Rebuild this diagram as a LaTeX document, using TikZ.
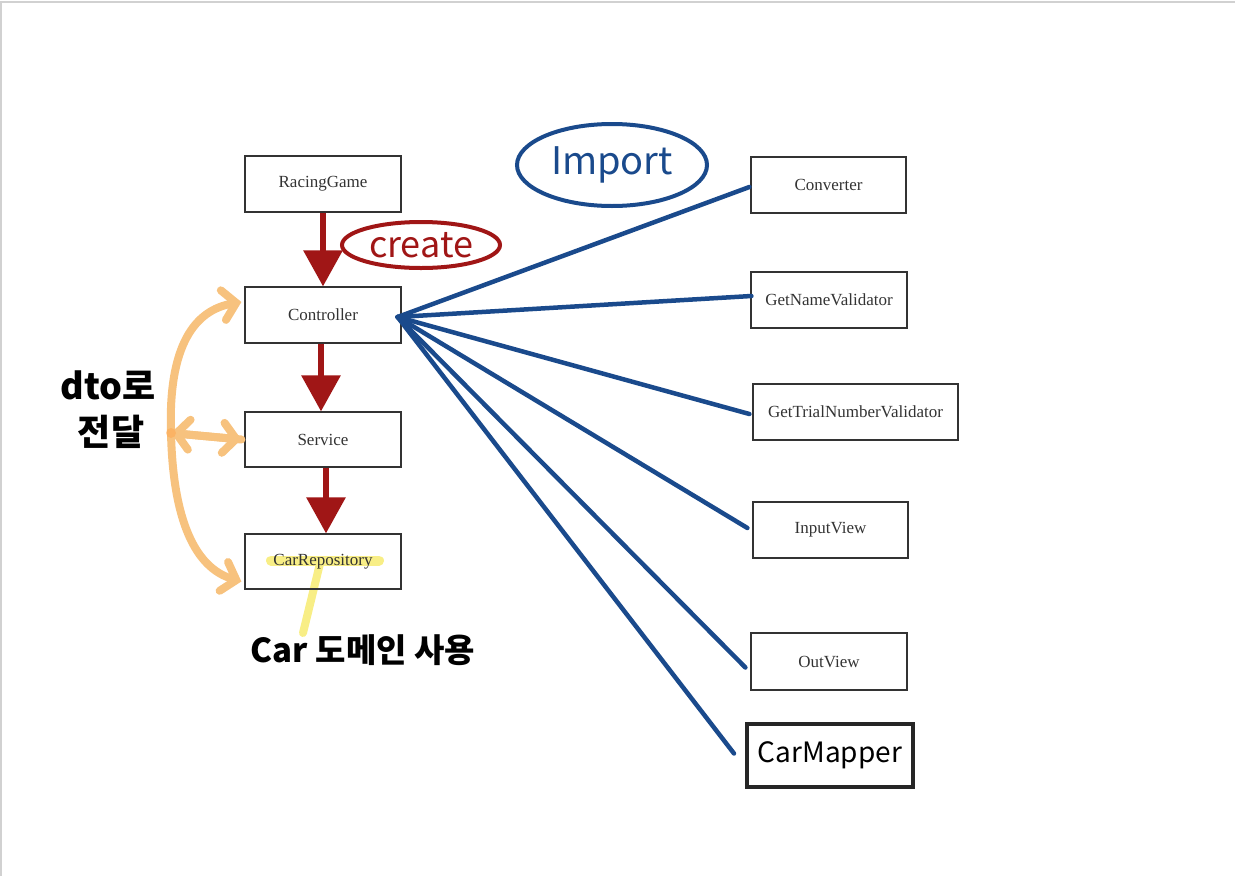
\documentclass[tikz,border=0pt]{standalone}
\usepackage{fontspec}
\setmainfont{Liberation Serif}
\newfontfamily\kr{Noto Sans CJK KR}
\usetikzlibrary{arrows.meta,shapes.geometric,calc}
\pgfdeclarelayer{background}
\pgfsetlayers{background,main}
\definecolor{hblue}{HTML}{1A4A8C}
\definecolor{hred}{HTML}{A01616}
\definecolor{horange}{HTML}{F7C27E}
\definecolor{hyellow}{HTML}{F8EE86}
\definecolor{boxline}{HTML}{333333}
\tikzset{
  cls/.style={draw=boxline, line width=1.2pt, minimum height=56pt, minimum width=156pt,
    inner sep=0pt, font=\fontsize{17}{20}\selectfont, text=black!80},
  redarrow/.style={draw=hred, line width=6pt, -{Triangle[length=36pt,width=38pt]}},
  blueline/.style={draw=hblue, line width=4.5pt, line cap=round},
  orangearc/.style={draw=horange, line width=8pt, line cap=round,
    -{Straight Barb[length=13pt,width=30pt,line cap=round]}},
  hand/.style={font=\kr\bfseries\fontsize{#1}{#1}\selectfont, inner sep=0pt},
  handlight/.style={font=\kr\fontsize{#1}{#1}\selectfont, inner sep=0pt},
}
\begin{document}
\begin{tikzpicture}[x=1pt,y=-1pt]
\useasboundingbox (0,0) rectangle (1235,876);
\draw[black!18, line width=2pt] (1,876) -- (1,2) -- (1235,2);

% left column classes
\node[cls] (RacingGame) at (323,184) {RacingGame};
\node[cls] (Controller) at (323,315) {Controller};
\node[cls, minimum height=55pt] (Service) at (323,439.5) {Service};
\node[cls, minimum height=55pt] (CarRepository) at (323,561.5) {CarRepository};

% right column classes
\node[cls, minimum width=155pt] (Converter) at (828.5,185) {Converter};
\node[cls] (GetNameValidator) at (829,300) {GetNameValidator};
\node[cls, minimum width=205pt] (GetTrialNumberValidator) at (855.5,412) {GetTrialNumberValidator};
\node[cls, minimum width=155pt] (InputView) at (830.5,530) {InputView};
\node[cls, minimum height=57pt] (OutView) at (829,661.5) {OutView};
\node[draw=black!85, line width=4pt, minimum width=166pt, minimum height=63pt, inner sep=0pt,
  handlight=28] (CarMapper) at (830,755.5) {CarMapper};

% highlight behind CarRepository text
\coordinate (ylTop) at ($(CarRepository)+(-3,2)$);
\coordinate (ylBot) at (303,633);
\begin{pgfonlayer}{background}
  \draw[hyellow, line width=10pt, line cap=round] ($(CarRepository)+(-52,-1)$) -- ($(CarRepository)+(56,-1)$);
  \draw[hyellow, line width=8pt, line cap=round] (ylTop) -- (ylBot);
\end{pgfonlayer}
\node[hand=33, anchor=north] (CarDomain) at (363,634) {Car 도메인 사용};

% create arrows
\draw[redarrow] (RacingGame.south) -- (Controller.north);
\draw[redarrow] ([xshift=-2pt]Controller.south) -- ([xshift=-2pt]Service.north);
\draw[redarrow] ([xshift=3pt]Service.south) -- ([xshift=3pt]CarRepository.north);
\node[ellipse, draw=hred, line width=4pt, minimum width=158pt, minimum height=46pt,
  handlight=36, text=hred] (create) at (421,245) {create};

% import lines
\coordinate (hub) at ($(Controller.east)+(-4,2)$);
\draw[blueline] (hub) -- ($(Converter.west)+(-1,2)$);
\draw[blueline] (hub) -- ($(GetNameValidator.west)+(1,-4)$);
\draw[blueline] (hub) -- ($(GetTrialNumberValidator.west)+(-3,2)$);
\draw[blueline] (hub) -- ($(InputView.west)+(-5,-2)$);
\draw[blueline] (hub) -- ($(OutView.west)+(-5,6)$);
\draw[blueline] (hub) -- ($(CarMapper.west)+(-11,-2)$);
\node[ellipse, draw=hblue, line width=4pt, minimum width=190pt, minimum height=82pt,
  handlight=38, text=hblue] (import) at (612,165) {Import};

% dto arcs
\coordinate (hubL) at (171,433);
\draw[orangearc] (hubL) .. controls (168,345) and (195,310) .. ([xshift=-3pt,yshift=13pt]Controller.west);
\draw[orangearc] (hubL) .. controls (173,520) and (195,568) .. ([xshift=-3pt,yshift=-20pt]CarRepository.west);
\draw[orangearc] (hubL) -- ([xshift=-3pt]Service.west);
\draw[orangearc] ([xshift=-3pt]Service.west) -- (hubL);
\fill[orange!70, opacity=0.5] (hubL) circle (5pt);
\node[hand=36, align=center] (dto) at (108,410) {dto로\\[10pt]\,전달};
\end{tikzpicture}
\end{document}
